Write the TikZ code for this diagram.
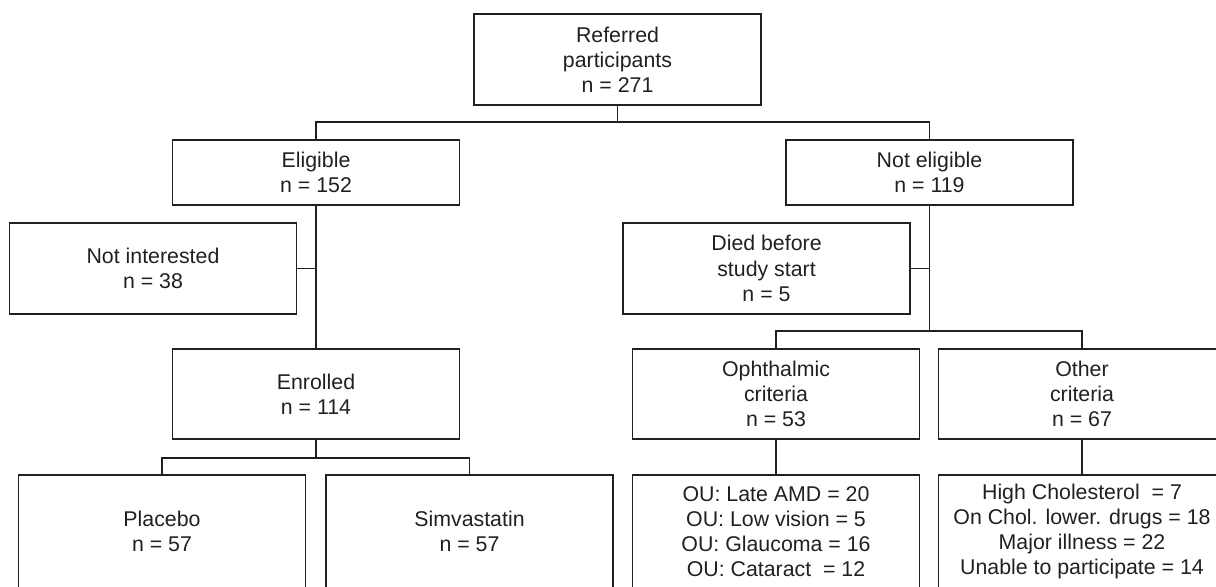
\documentclass[tikz,border=0pt]{standalone}
\usepackage{fontspec}
\setmainfont{Liberation Sans}
\definecolor{ink}{RGB}{35,31,32}
\begin{document}
\begin{tikzpicture}[x=0.75pt,y=-0.75pt,
  bx/.style={draw=ink,line width=1.3pt,text=ink,align=center,inner sep=0pt,
    minimum width=215.25pt,font=\fontsize{16pt}{18.9pt}\selectfont},
  hA/.style={minimum height=68.25pt},
  hB/.style={minimum height=48.75pt},
  hC/.style={minimum height=67.5pt},
  hD/.style={minimum height=84.75pt},
  ln/.style={draw=ink,line width=1.3pt}]
\useasboundingbox (0,0) rectangle (1216,586);
\clip (0,0) rectangle (1216,586);
\node[bx,hA] (ref) at (617.5,59.5) {Referred\\participants\\n = 271};
\node[bx,hB] (elig) at (316,172.5) {Eligible\\n = 152};
\node[bx,hB] (nelig) at (929.5,172.5) {Not eligible\\n = 119};
\node[bx,hA] (notint) at (153,268.5) {Not interested\\n = 38};
\node[bx,hA] (died) at (766.5,268.5) {Died before\\study start\\n = 5};
\node[bx,hC] (enr) at (316,394) {Enrolled\\n = 114};
\node[bx,hC] (oph) at (776,394) {Ophthalmic\\criteria\\n = 53};
\node[bx,hC] (oth) at (1082,394) {Other\\criteria\\n = 67};
\node[bx,hD] (plac) at (162,531.5) {Placebo\\n = 57};
\node[bx,hD] (simv) at (469.5,531.5) {Simvastatin\\n = 57};
\node[bx,hD] (oul) at (776,531.5) {OU: Late AMD = 20\\OU: Low vision = 5\\OU: Glaucoma = 16\\OU: Cataract\ \ = 12};
\node[bx,hD] (othl) at (1082,531.5) {High Cholesterol\ \ = 7\\On Chol. lower. drugs = 18\\Major illness = 22\\Unable to participate = 14};
\coordinate (j1) at (617.5,122);
\coordinate (j2) at (929.5,331);
\coordinate (j3) at (316,458);
\draw[ln] (ref.south) -- (j1);
\draw[ln] (elig.north) |- (j1) -| (nelig.north);
\draw[ln] (elig.south) -- (enr.north);
\draw[ln] (notint.east) -- (notint.east -| elig.south);
\draw[ln] (nelig.south) -- (j2);
\draw[ln] (died.east) -- (died.east -| nelig.south);
\draw[ln] (oph.north) |- (j2) -| (oth.north);
\draw[ln] (enr.south) -- (j3);
\draw[ln] (plac.north) |- (j3) -| (simv.north);
\draw[ln] (oph.south) -- (oul.north);
\draw[ln] (oth.south) -- (othl.north);
\end{tikzpicture}
\end{document}
